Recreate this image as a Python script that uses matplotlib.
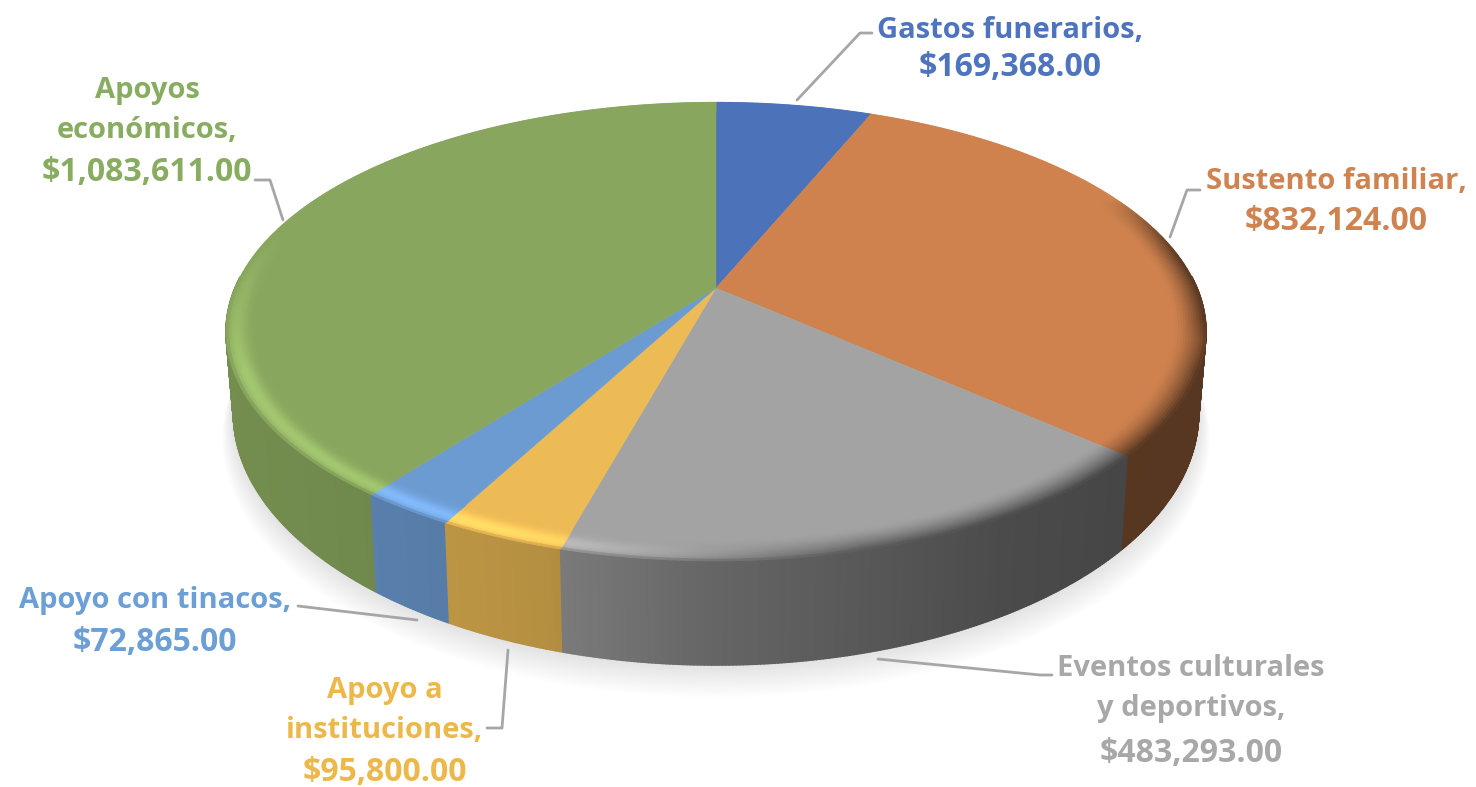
import numpy as np
import matplotlib
matplotlib.use("Agg")
import matplotlib.pyplot as plt
from matplotlib.collections import PolyCollection
from matplotlib.patches import Polygon

# data, clockwise from 12 o'clock
names = ["Gastos funerarios", "Sustento familiar", "Eventos culturales\ny deportivos",
         "Apoyo a\ninstituciones", "Apoyo con tinacos", "Apoyos\neconómicos"]
values = [169368, 832124, 483293, 95800, 72865, 1083611]
colors = ["#4C72BA", "#CF824E", "#A3A3A3", "#ECBB55", "#6C9BD2", "#88A65D"]
text_colors = ["#4D74BC", "#CE8350", "#A8A8A8", "#EDB84A", "#6C9FD6", "#88AC60"]

# label anchors: x centre, baseline of the last name line, baseline of the value
label_x = [1010, 1336, 1191, 385, 155, 147]
name_base = [38, 189, 716, 738, 608, 138]
value_base = [76, 230, 762, 781, 651, 181]
leaders = [
    [(797, 100), (860, 33), (872, 33)],
    [(1170, 237), (1187, 190), (1200, 190)],
    [(878, 659), (1040, 675), (1052, 675)],
    [(508, 650), (502, 728), (487, 728)],
    [(417, 620), (298, 606)],
    [(283, 220), (270, 180), (255, 180)],
]

# pie projection, in image pixels
cx, cy = 716, 288
k = 0.19
a_top = 221.0
b_top = 481.0
cy_bot = 365
a_bot = 243.0
b_bot = b_top * 0.985


def project(t, r=1.0, bottom=False):
    u = r * np.sin(t)
    v = r * np.cos(t)
    d = 1 + k * v
    if bottom:
        return cx + b_bot * u / d, cy_bot - a_bot * v / d
    return cx + b_top * u / d, cy - a_top * v / d


def side_factor(t):
    x = np.sin(t)
    return np.interp(x, [-1, -0.6, -0.3, 0.0, 0.5, 0.8, 1.0],
                     [0.86, 0.82, 0.77, 0.62, 0.46, 0.42, 0.42])


fig = plt.figure(figsize=(14.76, 7.87), dpi=100)
ax = fig.add_axes([0, 0, 1, 1])
ax.set_xlim(0, 1476)
ax.set_ylim(787, 0)
ax.axis("off")

angles = np.concatenate([[0], np.cumsum(values)]) / np.sum(values) * 2 * np.pi

# soft shadow under the pie
tt = np.linspace(0, 2 * np.pi, 300)
for i in range(14):
    grow = 1 - i / 14
    xs, ys = project(tt, 1 + 0.022 * grow, bottom=True)
    ax.add_patch(Polygon(np.c_[xs, ys + 24 * grow], closed=True, fc="#5a5a5a",
                         ec="none", alpha=0.011, zorder=1))

# side wall, only the part that faces the viewer
side_quads, side_cols, side_depth = [], [], []
for i, c in enumerate(colors):
    base = np.array(matplotlib.colors.to_rgb(c))
    n = max(int((angles[i + 1] - angles[i]) / 0.006), 4)
    ts = np.linspace(angles[i], angles[i + 1], n + 1)
    for t0, t1 in zip(ts[:-1], ts[1:]):
        tm = (t0 + t1) / 2
        if np.cos(tm) > 0.05:
            continue
        x0, y0 = project(t0)
        x1, y1 = project(t1)
        x2, y2 = project(t1, bottom=True)
        x3, y3 = project(t0, bottom=True)
        side_quads.append([(x0, y0), (x1, y1), (x2, y2), (x3, y3)])
        side_cols.append(base * side_factor(tm))
        side_depth.append(np.cos(tm))
order = np.argsort(side_depth)[::-1]
ax.add_collection(PolyCollection([side_quads[j] for j in order],
                                 facecolors=[side_cols[j] for j in order],
                                 edgecolors="face", linewidths=1.2, zorder=2))

# top face, flat part
r_in = 0.935
for i, c in enumerate(colors):
    ts = np.linspace(angles[i], angles[i + 1], 120)
    xs, ys = project(ts, r_in + 0.002)
    ax.add_patch(Polygon(np.r_[[(cx, cy)], np.c_[xs, ys]], closed=True, fc=c, ec=c,
                         lw=0.3, zorder=3))

# rounded rim of the top face
rs = np.linspace(r_in, 1.0, 13)
rim_quads, rim_cols = [], []
for i, c in enumerate(colors):
    base = np.array(matplotlib.colors.to_rgb(c))
    n = max(int((angles[i + 1] - angles[i]) / 0.006), 4)
    ts = np.linspace(angles[i], angles[i + 1], n + 1)
    for t0, t1 in zip(ts[:-1], ts[1:]):
        tm = (t0 + t1) / 2
        x = np.sin(tm)
        # lit on the front left, dark on the front right, nearly flat at the back
        front = np.clip((0.25 - np.cos(tm)) / 0.6, 0, 1)
        light = np.clip((0.1 - x) / 0.5, 0, 1) * 0.2 * front
        dark = np.clip((x + 0.25) / 0.5, 0, 1) * max(front, np.clip((x - 0.9) / 0.09, 0, 1))
        side = base * side_factor(tm)
        for r0, r1 in zip(rs[:-1], rs[1:]):
            s = ((r0 + r1) / 2 - r_in) / (1 - r_in)
            bump = np.exp(-((s - 0.68) / 0.3) ** 2)
            lit_edge = np.clip((s - 0.85) / 0.15, 0, 1) ** 2
            dark_edge = np.clip(s, 0, 1) ** 1.5
            blend = dark * dark_edge + (1 - dark) * lit_edge * front
            col = (base + (side - base) * blend) * (1 + light * bump)
            xa, ya = project(t0, r0)
            xb, yb = project(t1, r0)
            xc, yc = project(t1, r1)
            xd, yd = project(t0, r1)
            rim_quads.append([(xa, ya), (xb, yb), (xc, yc), (xd, yd)])
            rim_cols.append(np.clip(col, 0, 1))
ax.add_collection(PolyCollection(rim_quads, facecolors=rim_cols, edgecolors="face",
                                 linewidths=0.6, zorder=4))

# leader lines and labels
for pts in leaders:
    ax.plot(*zip(*pts), color="#A6A6A6", lw=2, solid_capstyle="round", zorder=5)

for name, val, col, lx, yn, yv in zip(names, values, text_colors, label_x, name_base, value_base):
    ax.text(lx, yn, f"{name},", color=col, ha="center", va="baseline", fontsize=21,
            family="Open Sans", weight="bold", linespacing=1.5, parse_math=False, zorder=6)
    ax.text(lx, yv, f"${val:,.2f}", color=col, ha="center", va="baseline", fontsize=23,
            family="Open Sans", weight="bold", parse_math=False, zorder=6)

fig.savefig("out.png", dpi=100, facecolor="white")
